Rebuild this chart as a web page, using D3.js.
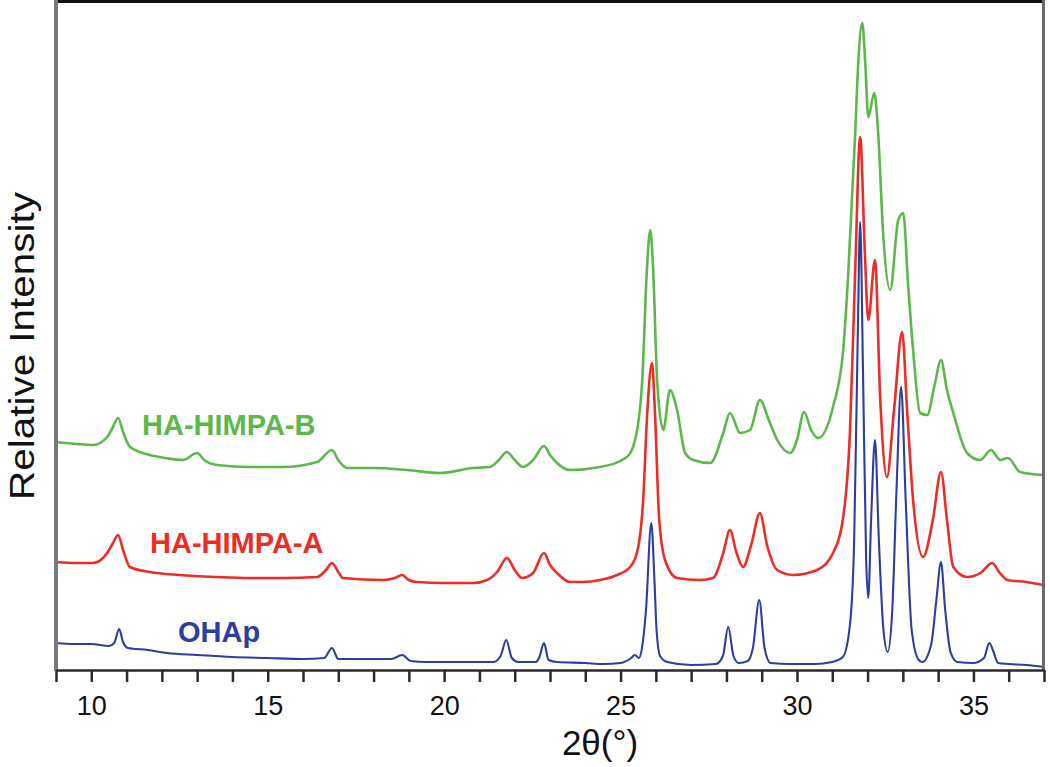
<!DOCTYPE html>
<html>
<head>
<meta charset="utf-8">
<script src="https://cdn.jsdelivr.net/npm/d3@7"></script>
<style>
  html, body { margin: 0; padding: 0; background: #fff; }
  svg { display: block; }
</style>
</head>
<body>
<svg id="chart" width="1050" height="767"></svg>
<script>
// ---- data (2θ in degrees, relative intensity as stacked in the plot) ----
const xDomain = [9, 37];
const yDomain = [0, 668];
const tickValuesX = d3.range(9, 38);
const tickLabelsX = [10, 15, 20, 25, 30, 35];

const seriesNames = ["OHAp", "HA-HIMPA-A", "HA-HIMPA-B"];
const seriesColors = ["#2c3e9e", "#ee2b24", "#5cb84a"];

const ohap = [
  [9.0,27],[9.5,26],[10.0,26],[10.5,24],[10.65,27],[10.79,41],[10.9,28],[11.04,22],[11.6,20],[12.15,17],
  [13.0,15],[14.0,13],[15.0,12],[16.0,11],[16.6,12],[16.82,22],[17.0,11],[17.5,11],[18.5,11],[18.81,15],
  [19.05,9],[19.5,8],[20.5,8],[21.4,8],[21.6,14],[21.76,30],[21.92,12],[22.1,8],[22.6,8],[22.7,13],
  [22.83,27],[22.96,10],[23.2,8],[24.0,7],[24.5,6],[25.0,7],[25.3,12],[25.4,15],[25.52,12],[25.62,25],
  [25.72,60],[25.87,147],[25.96,90],[26.02,40],[26.12,14],[26.32,8],[27.0,5],[27.7,6],[27.9,14],[28.05,43],
  [28.2,14],[28.35,7],[28.6,9],[28.75,22],[28.93,70],[29.08,22],[29.25,7],[29.8,6],[30.5,6],[31.0,8],
  [31.3,13],[31.5,45],[31.62,130],[31.72,330],[31.79,448],[31.87,300],[31.96,110],[32.02,72],[32.1,150],[32.21,230],
  [32.32,130],[32.45,40],[32.57,18],[32.7,60],[32.82,180],[32.95,283],[33.08,170],[33.25,40],[33.45,10],[33.55,8],
  [33.8,25],[33.95,70],[34.08,108],[34.2,60],[34.35,18],[34.54,8],[35.0,7],[35.3,12],[35.45,27],[35.55,20],
  [35.7,7],[36.0,6],[36.5,5],[37.0,3]
];

const himpaA = [
  [9.0,108],[9.6,107],[10.05,107],[10.45,117],[10.6,126],[10.76,135],[10.9,120],[11.1,103],[11.66,98],[12.5,95],
  [13.56,93],[14.5,92],[15.43,92],[16.4,93],[16.65,100],[16.82,107],[17.0,98],[17.13,92],[18.27,90],[18.6,92],
  [18.81,95],[19.0,90],[19.23,88],[20.0,87],[20.82,87],[21.22,90],[21.5,98],[21.78,112],[22.0,100],[22.21,92],
  [22.52,97],[22.83,117],[23.0,105],[23.2,97],[23.57,88],[23.94,88],[24.42,90],[24.9,95],[25.27,103],[25.5,123],
  [25.64,170],[25.75,253],[25.89,307],[25.98,253],[26.09,153],[26.26,110],[26.6,92],[27.25,90],[27.62,92],[27.91,117],
  [28.1,140],[28.28,118],[28.47,103],[28.7,125],[28.95,157],[29.15,125],[29.44,100],[29.89,95],[30.57,100],[31.02,117],
  [31.31,153],[31.5,237],[31.65,400],[31.79,533],[31.92,420],[32.02,350],[32.21,410],[32.36,270],[32.55,193],[32.75,260],
  [32.98,338],[33.12,260],[33.29,170],[33.57,113],[33.85,150],[34.08,198],[34.25,150],[34.43,103],[34.82,93],[35.2,97],
  [35.53,107],[35.75,97],[35.96,90],[36.5,88],[36.98,85]
];

const himpaB = [
  [9.0,228],[9.6,226],[10.05,225],[10.45,233],[10.6,242],[10.76,252],[10.9,238],[11.1,223],[11.66,215],[12.1,212],
  [12.6,210],[13.0,217],[13.2,210],[13.56,205],[14.5,203],[15.43,203],[16.4,208],[16.82,220],[17.0,210],[17.25,202],
  [17.99,202],[18.95,200],[19.88,197],[20.82,202],[21.3,203],[21.55,210],[21.78,218],[22.0,210],[22.24,203],[22.52,210],
  [22.83,224],[23.0,215],[23.2,207],[23.57,200],[24.42,203],[25.18,213],[25.41,230],[25.61,287],[25.75,403],[25.84,440],
  [25.92,403],[26.04,287],[26.21,240],[26.4,280],[26.6,260],[26.83,217],[27.06,210],[27.54,207],[27.91,237],[28.1,257],
  [28.39,237],[28.67,240],[28.95,270],[29.2,250],[29.44,230],[29.81,217],[30.0,230],[30.2,258],[30.4,240],[30.6,232],
  [31.02,263],[31.31,320],[31.45,395],[31.65,537],[31.73,603],[31.85,647],[31.93,610],[32.02,553],[32.19,577],[32.3,537],
  [32.44,437],[32.64,380],[32.87,450],[33.01,457],[33.15,385],[33.29,320],[33.49,257],[33.69,255],[33.9,285],[34.08,310],
  [34.25,280],[34.43,257],[34.82,217],[35.19,210],[35.5,220],[35.76,210],[35.98,212],[36.32,198],[36.98,195]
];

// ---- drawing ----
const svg = d3.select("#chart");
const x = d3.scaleLinear().domain(xDomain).range([56, 1044]);
const y = d3.scaleLinear().domain(yDomain).range([670, 2]);

const line = d3.line()
  .x(d => x(d[0]))
  .y(d => y(d[1]))
  .curve(d3.curveMonotoneX);

const allSeries = [ohap, himpaA, himpaB];
// draw back-to-front: green, red, blue
[2, 1, 0].forEach(i => {
  svg.append("path")
    .datum(allSeries[i])
    .attr("fill", "none")
    .attr("stroke", seriesColors[i])
    .attr("stroke-width", i === 0 ? 2.1 : 2.6)
    .attr("stroke-linejoin", "round")
    .attr("d", line);
});

// frame
svg.append("line").attr("x1", 55).attr("x2", 1045).attr("y1", 1.5).attr("y2", 1.5)
  .attr("stroke", "#111").attr("stroke-width", 3);
svg.append("line").attr("x1", 56).attr("x2", 56).attr("y1", 0).attr("y2", 671)
  .attr("stroke", "#7a7a7a").attr("stroke-width", 4);
svg.append("line").attr("x1", 1043.5).attr("x2", 1043.5).attr("y1", 0).attr("y2", 671)
  .attr("stroke", "#6a6a6a").attr("stroke-width", 3);

// x axis
const xAxis = d3.axisBottom(x)
  .tickValues(tickValuesX)
  .tickSize(12)
  .tickSizeOuter(0)
  .tickFormat(d => tickLabelsX.includes(d) ? d : "");
const gx = svg.append("g").attr("transform", "translate(0,670)").call(xAxis);
gx.select(".domain").attr("stroke", "#2a2a2a").attr("stroke-width", 2.5);
gx.selectAll(".tick line").attr("stroke", "#2a2a2a").attr("stroke-width", 2.5);
gx.selectAll(".tick text")
  .attr("y", 45).attr("dy", 0)
  .attr("fill", "#111")
  .style("font-family", "'Liberation Sans', Arial, sans-serif")
  .style("font-size", "27px");

// axis titles
svg.append("text")
  .attr("x", 600).attr("y", 755)
  .attr("text-anchor", "middle")
  .attr("fill", "#111")
  .style("font-family", "'Liberation Sans', Arial, sans-serif")
  .style("font-size", "35px")
  .text("2θ(°)");

svg.append("text")
  .attr("transform", "translate(34,346) rotate(-90)")
  .attr("text-anchor", "middle")
  .attr("fill", "#111")
  .attr("textLength", 308)
  .attr("lengthAdjust", "spacingAndGlyphs")
  .style("font-family", "'Liberation Sans', Arial, sans-serif")
  .style("font-size", "35px")
  .text("Relative Intensity");

// series labels
const labelX = [178, 150, 142];
const labelY = [642, 553, 435];
seriesNames.forEach((name, i) => {
  svg.append("text")
    .attr("x", labelX[i]).attr("y", labelY[i])
    .attr("fill", seriesColors[i])
    .style("font-family", "'Liberation Sans', Arial, sans-serif")
    .style("font-weight", "bold")
    .style("font-size", "29px")
    .text(name);
});
</script>
</body>
</html>
